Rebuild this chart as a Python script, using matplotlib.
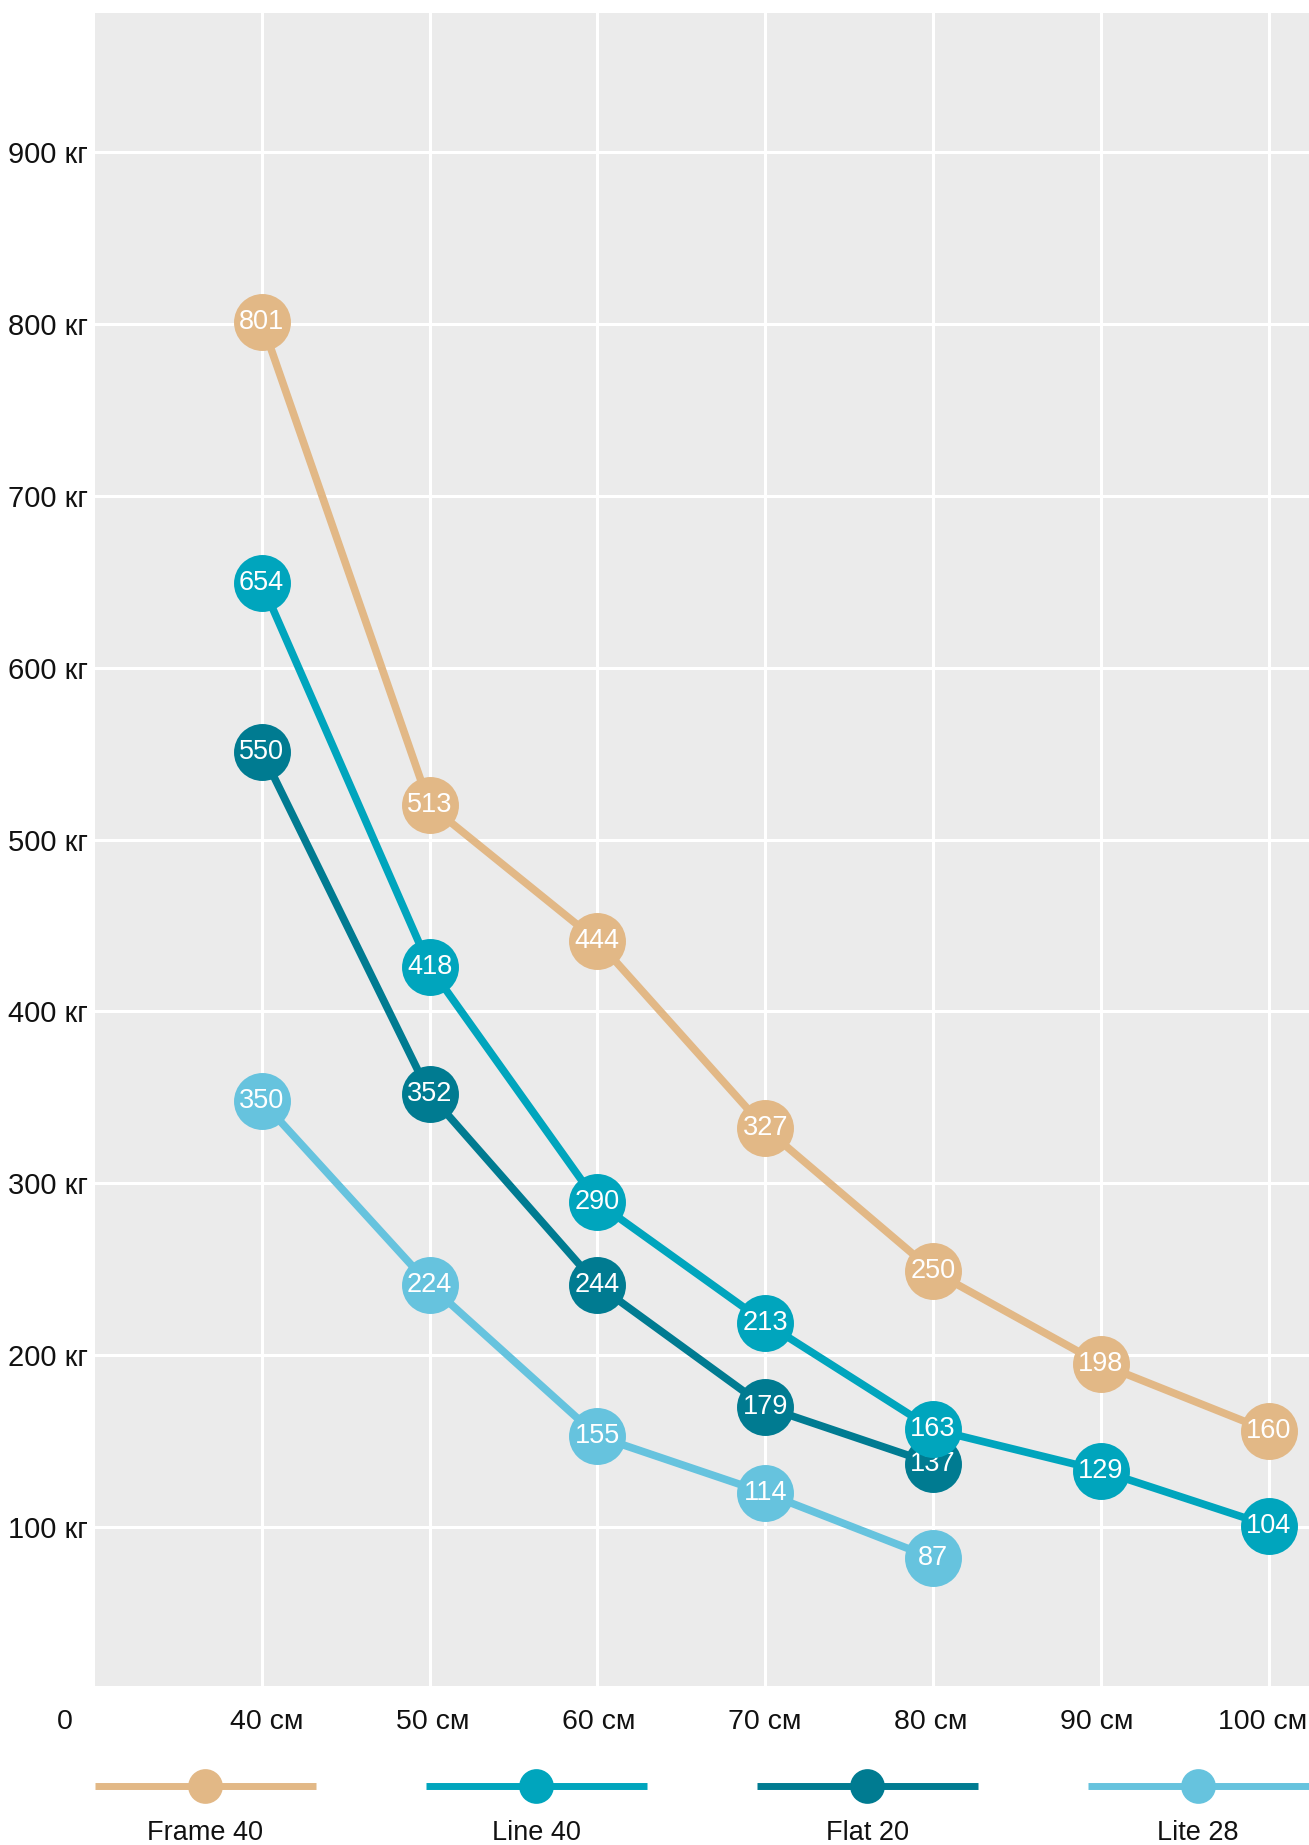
import matplotlib
matplotlib.use("Agg")
import matplotlib.pyplot as plt
from matplotlib.lines import Line2D

plt.rcParams['font.family'] = ['Liberation Sans', 'DejaVu Sans']

# ---- data ----
widths = [40, 50, 60, 70, 80, 90, 100]
x_labels = ["40 см", "50 см", "60 см", "70 см", "80 см", "90 см", "100 см"]
y_ticks = [100, 200, 300, 400, 500, 600, 700, 800, 900]
y_labels = ["100 кг", "200 кг", "300 кг", "400 кг", "500 кг", "600 кг", "700 кг", "800 кг", "900 кг"]

series_names = ["Frame 40", "Line 40", "Flat 20", "Lite 28"]
series_colors = ["#e2b886", "#00a5bd", "#007b91", "#66c3de"]

# plotted positions and printed labels
frame40_y = [801, 520, 441, 332, 249, 195, 156]
frame40_lbl = [801, 513, 444, 327, 250, 198, 160]
line40_y = [649, 426, 289, 219, 157, 133, 101]
line40_lbl = [654, 418, 290, 213, 163, 129, 104]
flat20_y = [551, 352, 241, 170, 137]
flat20_lbl = [550, 352, 244, 179, 137]
lite28_y = [348, 241, 153, 120, 82]
lite28_lbl = [350, 224, 155, 114, 87]

series_y = [frame40_y, line40_y, flat20_y, lite28_y]
series_lbl = [frame40_lbl, line40_lbl, flat20_lbl, lite28_lbl]

W, H = 1309, 1845
fig = plt.figure(figsize=(W / 100, H / 100), dpi=100)
ax = fig.add_axes([95 / W, 1 - 1686 / H, 1 - 95 / W, (1686 - 13) / H])
ax.set_facecolor("#ebebeb")
for s in ax.spines.values():
    s.set_visible(False)
ax.set_xlim(30.07, 102.4)
ax.set_ylim(7.7, 980.7)
ax.set_xticks(widths)
ax.set_yticks(y_ticks)
ax.set_yticklabels(y_labels, fontsize=21, color="#111111")
ax.set_xticklabels([])
ax.tick_params(length=0, axis="y", pad=5)
ax.tick_params(length=0, axis="x")
ax.grid(True, color="white", linewidth=2.2)
ax.set_axisbelow(True)

# draw in reverse so Line 40 sits above Flat 20
order = [3, 2, 1, 0]
for k, i in enumerate(order):
    n = len(series_y[i])
    xs = widths[:n]
    ax.plot(xs, series_y[i], color=series_colors[i], linewidth=5.5,
            marker="o", markersize=41, markeredgewidth=0, zorder=3 + k,
            solid_capstyle="butt")
    for xv, yv, lb in zip(xs, series_y[i], series_lbl[i]):
        ax.text(xv, yv, str(lb), ha="center", va="center", color="white",
                fontsize=19.5, zorder=3 + k + 0.5)

# x tick labels below the plot (evenly spread, as in the reference)
y_lab = 1 - 1722 / H
for j, lb in enumerate(x_labels):
    xf = (267 + 166 * j) / W
    fig.text(xf, y_lab, lb, ha="center", va="center", fontsize=20.5, color="#111111")
fig.text(65 / W, y_lab, "0", ha="center", va="center", fontsize=20.5, color="#111111")

# legend
lax = fig.add_axes([0, 0, 1, 1 - 1740 / H])
lax.set_xlim(0, W)
lax.set_ylim(H, 1740)
lax.axis("off")
for i, (name, col) in enumerate(zip(series_names, series_colors)):
    x0 = 95 + 331 * i
    lax.add_line(Line2D([x0, x0 + 221], [1786, 1786], color=col, linewidth=5,
                        solid_capstyle="butt"))
    lax.plot([x0 + 110], [1786], marker="o", markersize=25, color=col,
             markeredgewidth=0)
    lax.text(x0 + 110, 1833, name, ha="center", va="center", fontsize=19.5,
             color="#111111")

fig.savefig("out.png", dpi=100)
